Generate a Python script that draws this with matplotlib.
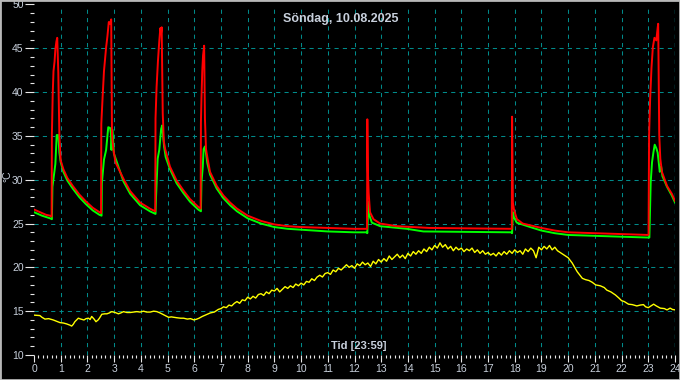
import numpy as np
import matplotlib
matplotlib.use('Agg')
from matplotlib import pyplot as plt
from matplotlib.patches import Rectangle
from matplotlib.ticker import MultipleLocator

# red sensor (hours, deg C)
red_t = [0.00, 0.15, 0.30, 0.45, 0.60, 0.66, 0.67, 0.70, 0.73, 0.77, 0.80, 0.84, 0.87, 0.91, 0.95,
         1.00, 1.10, 1.25, 1.45, 1.70, 1.95, 2.20, 2.45, 2.51,
         2.52, 2.57, 2.62, 2.70, 2.75, 2.80, 2.85, 2.89, 2.92, 2.97, 3.05, 3.35, 3.60, 3.97, 4.34, 4.54,
         4.55, 4.59, 4.64, 4.69, 4.73, 4.76, 4.78, 4.82, 4.86, 4.91, 5.09, 5.34, 5.59, 5.84, 6.15, 6.24,
         6.25, 6.27, 6.30, 6.33, 6.37, 6.40, 6.44, 6.50, 6.59, 6.84, 7.09, 7.34, 7.60, 8.00, 8.50, 9.00,
         9.50, 10.0, 11.0, 12.0, 12.47,
         12.48, 12.50, 12.53, 12.58, 12.71, 12.96, 13.58, 14.8, 17.89,
         17.90, 17.93, 17.97, 18.08, 18.30, 18.58, 19.0, 19.5, 20.0, 21.0, 22.0, 23.0,
         23.01, 23.03, 23.07, 23.12, 23.17, 23.23, 23.30, 23.35, 23.37, 23.41, 23.45, 23.51, 23.70,
         23.88, 24.0]
red_v = [26.6, 26.4, 26.2, 26.0, 25.9, 25.8, 35.2, 39.7, 42.4, 43.5, 44.9, 45.8, 46.2, 42.2, 35.0,
         32.2, 31.2, 30.2, 29.3, 28.3, 27.5, 26.8, 26.3, 26.2,
         36.4, 39.5, 42.4, 45.1, 46.4, 48.0, 47.8, 48.3, 35.1, 33.5, 32.0, 30.1, 28.7, 27.4, 26.7, 26.4,
         37.0, 40.6, 43.5, 45.8, 47.3, 46.8, 47.4, 37.6, 34.4, 33.5, 31.5, 29.9, 28.8, 27.8, 26.9, 26.7,
         36.6, 39.3, 42.4, 44.2, 45.3, 37.0, 33.5, 32.4, 30.9, 29.3, 28.2, 27.4, 26.7, 25.9, 25.3, 24.9,
         24.7, 24.6, 24.5, 24.4, 24.4,
         36.9, 31.1, 28.5, 26.3, 25.5, 25.0, 24.7, 24.5, 24.4,
         37.2, 27.4, 26.6, 25.5, 25.0, 24.8, 24.5, 24.2, 24.0, 23.9, 23.8, 23.7,
         23.7, 35.1, 39.3, 42.8, 45.1, 46.2, 45.9, 47.3, 47.8, 35.1, 32.4, 30.9, 29.3,
         28.4, 27.6]

# green sensor
green_t = [0.00, 0.30, 0.60, 0.67, 0.69, 0.75, 0.80, 0.85, 0.91, 0.95, 1.00, 1.10, 1.25, 1.45, 1.70,
           1.95, 2.20, 2.45, 2.53,
           2.54, 2.62, 2.70, 2.78, 2.85, 2.88, 2.90, 2.94, 2.99, 3.07, 3.35, 3.60, 3.97, 4.34, 4.55,
           4.57, 4.63, 4.69, 4.76, 4.80, 4.83, 4.87, 4.93, 5.09, 5.34, 5.59, 5.84, 6.15, 6.25,
           6.27, 6.32, 6.35, 6.40, 6.44, 6.49, 6.59, 6.84, 7.09, 7.34, 7.60, 8.00, 8.50, 9.00, 9.50,
           10.0, 11.0, 12.0, 12.47,
           12.48, 12.52, 12.56, 12.65, 12.96, 13.96, 14.58, 17.89,
           17.90, 17.93, 17.97, 18.08, 18.58, 19.0, 19.5, 20.0, 21.0, 22.0, 23.04,
           23.09, 23.14, 23.19, 23.24, 23.30, 23.35, 23.39, 23.43, 23.48, 23.53, 23.70, 23.88, 24.0]
green_v = [26.3, 25.9, 25.6, 25.5, 29.2, 30.6, 31.8, 35.1, 35.1, 33.1, 32.0, 30.9, 29.9, 29.0, 28.0,
           27.2, 26.5, 26.0, 25.9,
           29.6, 32.3, 33.4, 36.0, 35.9, 35.3, 33.4, 35.7, 33.0, 32.3, 29.8, 28.4, 27.1, 26.4, 26.1,
           28.1, 32.4, 33.4, 35.8, 36.2, 35.1, 33.8, 32.6, 31.2, 29.6, 28.5, 27.5, 26.6, 26.4,
           29.7, 31.5, 33.5, 33.8, 33.0, 31.9, 30.6, 29.0, 27.9, 27.1, 26.4, 25.6, 25.0, 24.6, 24.4,
           24.3, 24.1, 24.0, 24.0,
           23.9, 27.5, 25.9, 25.1, 24.7, 24.4, 24.1, 24.0,
           23.9, 26.3, 25.7, 25.1, 24.6, 24.2, 23.9, 23.7, 23.6, 23.5, 23.4,
           29.7, 32.0, 33.1, 34.0, 33.6, 33.1, 32.0, 30.9, 31.5, 30.4, 29.2, 28.2, 27.4]

# yellow sensor (outdoor)
yel_t = [0.00, 0.22, 0.30, 0.41, 0.55, 0.72, 0.85, 0.97, 1.10, 1.22, 1.35, 1.41, 1.47, 1.53, 1.66,
         1.75, 1.87, 1.95, 2.04, 2.10, 2.16, 2.25, 2.32, 2.40, 2.45, 2.54, 2.65, 2.73, 2.82, 2.91,
         3.04, 3.16, 3.25, 3.35, 3.48, 3.60, 3.72, 3.85, 3.97, 4.10, 4.22, 4.35, 4.48, 4.60, 4.72,
         4.85, 4.95, 5.04, 5.14, 5.24, 5.35, 5.49, 5.60, 5.74, 5.86, 5.99, 6.10, 6.18, 6.30, 6.45,
         6.60, 6.75, 6.90, 7.00, 7.10, 7.20, 7.30, 7.40, 7.50, 7.60, 7.70, 7.80, 7.90, 8.00, 8.10,
         8.20, 8.30, 8.40, 8.50, 8.60, 8.70, 8.80, 8.90, 9.00, 9.10, 9.20, 9.30, 9.40, 9.50, 9.60,
         9.70, 9.80, 9.90, 10.0, 10.1, 10.2, 10.3, 10.4, 10.5, 10.6, 10.7, 10.8, 10.9, 11.0, 11.1,
         11.2, 11.3, 11.4, 11.5, 11.6, 11.7, 11.8, 11.9, 12.0, 12.1, 12.2, 12.3, 12.4, 12.5, 12.6,
         12.7, 12.8, 12.9, 13.0, 13.1, 13.2, 13.3, 13.4, 13.5, 13.6, 13.7, 13.8, 13.9, 14.0, 14.1,
         14.2, 14.3, 14.4, 14.5, 14.6, 14.7, 14.8, 14.9, 15.0, 15.1, 15.2, 15.3, 15.4, 15.5, 15.6,
         15.7, 15.8, 15.9, 16.0, 16.1, 16.2, 16.3, 16.4, 16.5, 16.6, 16.7, 16.8, 16.9, 17.0, 17.1,
         17.2, 17.3, 17.4, 17.5, 17.6, 17.7, 17.8, 17.9, 18.0, 18.1, 18.2, 18.3, 18.4, 18.5, 18.6,
         18.7, 18.8, 18.9, 19.0, 19.1, 19.2, 19.3, 19.4, 19.5, 19.6, 19.7, 19.8, 19.9, 20.0, 20.15,
         20.34, 20.53, 20.65, 20.78, 20.9, 21.03, 21.2, 21.35, 21.45, 21.6, 21.77, 21.9, 22.0, 22.1,
         22.26, 22.4, 22.57, 22.7, 22.82, 22.9, 23.0, 23.1, 23.2, 23.3, 23.45, 23.6, 23.7, 23.82,
         23.9, 24.0]
yel_v = [14.55, 14.5, 14.3, 14.1, 14.15, 14.0, 13.85, 13.7, 13.65, 13.55, 13.4, 13.3, 13.5, 13.8, 14.2,
         14.1, 14.0, 14.15, 14.2, 14.05, 14.4, 14.1, 13.8, 14.0, 14.2, 14.65, 14.7, 14.7, 14.8, 14.95,
         14.85, 14.7, 14.8, 14.95, 14.85, 14.85, 14.9, 14.95, 14.9, 15.0, 14.9, 14.9, 15.0, 14.95, 14.8,
         14.6, 14.45, 14.3, 14.35, 14.3, 14.25, 14.2, 14.2, 14.1, 14.15, 14.0, 14.1, 14.2, 14.4, 14.6,
         14.8, 14.9, 15.2, 15.3, 15.5, 15.4, 15.7, 15.6, 15.9, 16.1, 15.9, 16.3, 16.2, 16.6, 16.4,
         16.7, 16.5, 16.9, 17.0, 16.8, 17.2, 17.0, 17.4, 17.3, 17.6, 17.2, 17.5, 17.8, 17.6, 17.9,
         17.7, 18.1, 17.9, 18.2, 18.0, 18.4, 18.3, 18.7, 18.5, 18.9, 19.1, 18.9, 19.3, 19.4, 19.2,
         19.7, 19.5, 19.9, 19.7, 20.0, 20.3, 20.0, 20.2, 19.9, 20.4, 20.2, 20.6, 20.3, 20.5, 20.1,
         20.7, 20.4, 20.9, 20.6, 21.0, 20.7, 21.3, 20.9, 21.2, 21.5, 21.1, 21.4, 21.0, 21.6, 21.3,
         21.8, 21.5, 21.9, 21.6, 22.1, 21.8, 22.3, 22.0, 22.5, 22.2, 22.8, 22.3, 22.6, 22.1, 22.4,
         21.9, 22.3, 22.0, 22.2, 21.8, 22.1, 21.9, 22.2, 21.7, 22.0, 21.6, 21.9, 21.5, 21.7, 21.4,
         21.6, 21.3, 21.7, 21.4, 21.8, 21.5, 21.9, 21.6, 22.0, 21.7, 21.9, 21.5, 22.1, 21.8, 22.2,
         21.9, 21.1, 22.3, 22.0, 22.4, 22.1, 22.5, 22.0, 22.3, 21.9, 21.7, 21.5, 21.3, 21.1, 20.5,
         19.5, 18.75, 18.6, 18.5, 18.3, 18.0, 17.9, 17.7, 17.4, 17.2, 16.85, 16.5, 16.2, 16.1,
         15.8, 15.75, 15.6, 15.7, 15.75, 15.5, 15.4, 15.6, 15.8, 15.6, 15.35, 15.3, 15.15, 15.35,
         15.2, 15.15]

title = 'Söndag, 10.08.2025'
xlabel = 'Tid [23:59]'
ylabel = '°C'

txt = '#c8d0dc'
grid_c = '#008a8a'
plt.rcParams['font.family'] = ['Liberation Sans', 'DejaVu Sans']
plt.rcParams['lines.scale_dashes'] = False

fig = plt.figure(figsize=(6.8, 3.8), dpi=100, facecolor='black')
ax = fig.add_axes([34 / 680, 25 / 380, 641 / 680, 350.5 / 380], facecolor='black')

# grid lines, drawn by hand so 0 and the edges stay empty
for h in range(1, 24):
    ax.axvline(h, color=grid_c, lw=0.75, ls=(0, (3, 3)), zorder=1)
for v in range(15, 50, 5):
    ax.axhline(v, color=grid_c, lw=0.75, ls=(0, (3, 3)), zorder=1)
ax.axvline(24, color='#00e0e8', lw=0.9, ls=(0, (3, 3)), zorder=1)

ax.plot(yel_t, yel_v, color='#ffff00', lw=1.0, zorder=3)
ax.plot(green_t, green_v, color='#00ff00', lw=1.4, zorder=4)
ax.plot(red_t, red_v, color='#ff0000', lw=1.4, zorder=5)

ax.set_xlim(0, 24)
ax.set_ylim(10, 50)
for s in ax.spines.values():
    s.set_visible(False)

ax.xaxis.set_major_locator(MultipleLocator(1))
ax.xaxis.set_minor_locator(MultipleLocator(1 / 6))
ax.yaxis.set_major_locator(MultipleLocator(5))
ax.yaxis.set_minor_locator(MultipleLocator(1))
ax.tick_params(axis='y', which='major', length=6.5, width=0.8, color='#e8e8e8',
               labelcolor=txt, labelsize=7.5, pad=1)
ax.tick_params(axis='y', which='minor', length=3, width=0.8, color='#e8e8e8')
ax.tick_params(axis='x', which='major', length=5, width=0.8, color='#e8e8e8',
               labelcolor=txt, labelsize=7.5, pad=1.5)
ax.tick_params(axis='x', which='minor', length=2.5, width=0.8, color='#e8e8e8')

ax.text(0.479, 0.975, title, transform=ax.transAxes, ha='center', va='top',
        color=txt, fontsize=9, fontweight='bold')
ax.text(0.507, 0.012, xlabel, transform=ax.transAxes, ha='center', va='bottom',
        color=txt, fontsize=8, fontweight='bold')
fig.text(7 / 680, 1 - 176 / 380, ylabel, rotation=90, ha='center', va='center',
         color=txt, fontsize=7.5)

fig.patches.append(Rectangle((0, 0), 1, 1, transform=fig.transFigure, fill=False,
                             edgecolor='#b8b8b8', lw=2.0))

fig.savefig('out.png', dpi=100, facecolor='black')
